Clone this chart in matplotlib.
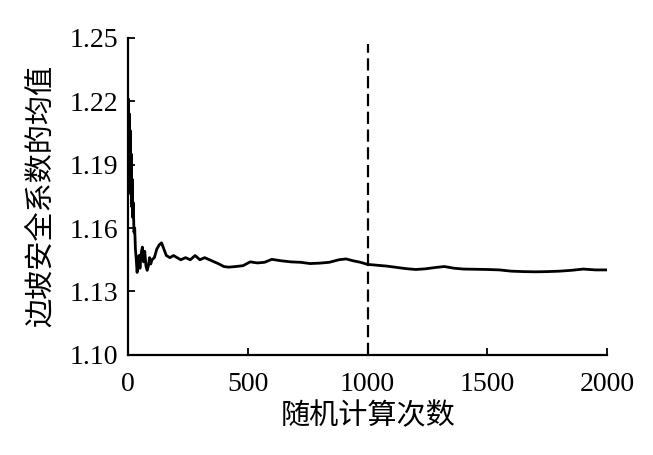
import matplotlib
matplotlib.use("Agg")
import matplotlib.pyplot as plt

# running mean of the slope safety factor vs. number of random trials
iters = [0, 2, 4, 6, 8, 10, 12, 14, 16, 18, 20, 22, 25, 28, 31, 34, 38, 42, 46,
         50, 55, 60, 65, 70, 75, 80, 85, 90, 95, 100, 110, 120, 130, 140, 150,
         160, 175, 190, 205, 220, 240, 260, 280, 300, 320, 340, 360, 380, 400,
         420, 450, 480, 510, 540, 570, 600, 640, 680, 720, 760, 800, 840, 880,
         910, 940, 970, 1000, 1040, 1080, 1120, 1160, 1200, 1240, 1280, 1320,
         1360, 1400, 1450, 1500, 1550, 1600, 1650, 1700, 1750, 1800, 1850, 1900,
         1950, 2000]
mean_fs = [1.205, 1.221, 1.195, 1.214, 1.182, 1.206, 1.176, 1.195, 1.170, 1.183,
           1.165, 1.172, 1.158, 1.160, 1.150, 1.146, 1.139, 1.143, 1.147,
           1.141, 1.148, 1.151, 1.144, 1.149, 1.142, 1.140, 1.142, 1.146, 1.143,
           1.145, 1.146, 1.150, 1.152, 1.153, 1.150, 1.147, 1.146, 1.147, 1.146,
           1.145, 1.146, 1.145, 1.147, 1.145, 1.146, 1.145, 1.144, 1.143, 1.1418,
           1.1415, 1.1418, 1.1422, 1.1440, 1.1435, 1.1438, 1.1452, 1.1445,
           1.1440, 1.1438, 1.1432, 1.1434, 1.1438, 1.1450, 1.1454, 1.1445,
           1.1438, 1.1428, 1.1424, 1.1420, 1.1414, 1.1408, 1.1404, 1.1407,
           1.1413, 1.1418, 1.1410, 1.1406, 1.1405, 1.1404, 1.1402, 1.1396,
           1.1394, 1.1393, 1.1394, 1.1396, 1.1400, 1.1406, 1.1402, 1.1402]

x_ticks = [0, 500, 1000, 1500, 2000]
y_ticks = [1.10, 1.13, 1.16, 1.19, 1.22, 1.25]
marker_x = 1000

num_font = ["Liberation Serif", "DejaVu Serif"]
cjk_font = ["Noto Sans CJK SC", "DejaVu Sans"]

fig = plt.figure(figsize=(6.53, 4.55), dpi=100)
ax = fig.add_axes([0.196, 0.22, 0.734, 0.697])

ax.plot(iters, mean_fs, color="black", linewidth=2.0)
ax.axvline(marker_x, ymin=0, ymax=0.98, color="black", linewidth=1.6,
           dashes=(5.5, 2.5))

ax.set_xlim(0, 2000)
ax.set_ylim(1.10, 1.25)
ax.set_xticks(x_ticks)
ax.set_yticks(y_ticks)
ax.set_xticklabels([str(v) for v in x_ticks], family=num_font, fontsize=20)
ax.set_yticklabels([f"{v:.2f}" for v in y_ticks], family=num_font, fontsize=20)

ax.spines["top"].set_visible(False)
ax.spines["right"].set_visible(False)
for s in ("left", "bottom"):
    ax.spines[s].set_linewidth(1.6)
ax.tick_params(direction="in", length=5, width=1.3)
ax.tick_params(axis="x", pad=12)
ax.tick_params(axis="y", pad=7)

ax.set_xlabel("随机计算次数", family=cjk_font, fontsize=21, labelpad=3)
ax.set_ylabel("边坡安全系数的均值", family=cjk_font, fontsize=21, labelpad=10)

fig.savefig("out.png", dpi=100)
